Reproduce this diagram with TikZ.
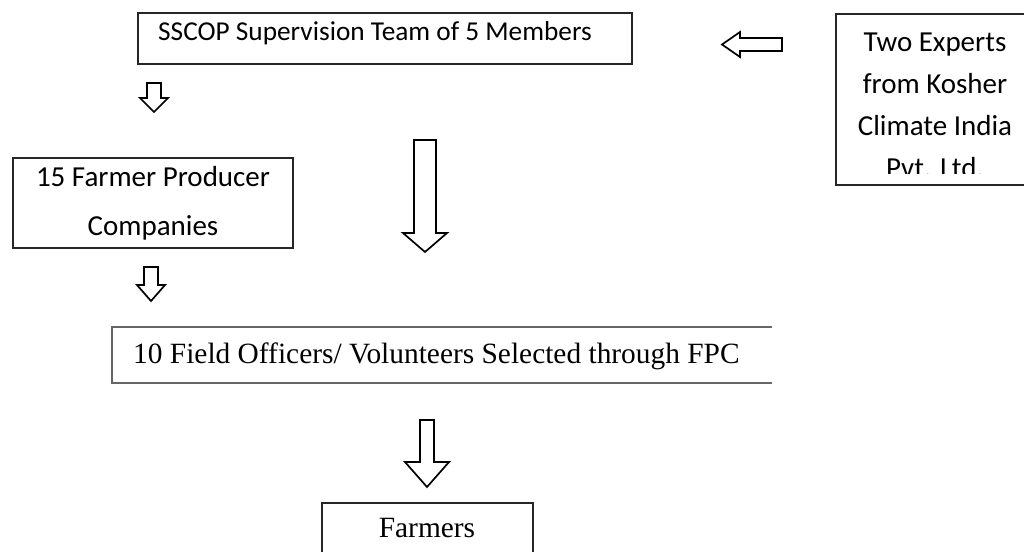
\documentclass[tikz,border=0pt]{standalone}
\usepackage{fontspec}
\setmainfont{Carlito}
\newfontfamily\timesf{Liberation Serif}
\begin{document}
\begin{tikzpicture}[x=1pt,y=-1pt,
  frame/.style={draw=black!85,line width=1.6pt,inner sep=0pt,outer sep=0pt,anchor=north west},
  openframe/.style={draw=black!60,line width=1.4pt},
  blockarrow/.style={draw=black,line width=1.7pt,fill=white,line join=miter},
  calA/.style={font=\fontsize{27.3}{32}\selectfont,inner sep=0pt,text=black},
  calB/.style={font=\fontsize{29}{34}\selectfont,inner sep=0pt,text=black},
  tms/.style={font=\timesf\fontsize{29.4}{34}\selectfont,inner sep=0pt,text=black}]
\useasboundingbox[fill=white] (0,0) rectangle (1024,551);

% top box
\node[frame,minimum width=494pt,minimum height=51pt] (sscop) at (138,13) {};
\node[calA,anchor=base west] (sscopt) at (158,41) {SSCOP Supervision Team of 5 Members};

% experts box
\node[frame,minimum width=200pt,minimum height=171pt] (experts) at (836,14) {};
\begin{scope}
  \clip (836,14) rectangle (1040,173);
  \node[calB,anchor=base] (e1) at (935,52) {Two Experts};
  \node[calB,anchor=base] (e2) at (935,93) {from Kosher};
  \node[calB,anchor=base] (e3) at (935,135) {Climate India};
  \node[calB,anchor=base] (e4) at (935,177) {Pvt. Ltd.};
\end{scope}

% left arrow
\draw[blockarrow] (722,44.5) -- (740,32) -- (740,38) -- (782,38) -- (782,51) -- (740,51) -- (740,57) -- cycle;

% small arrow under top box
\draw[blockarrow] (147,83) -- (161,83) -- (161,98) -- (168,98) -- (154,112) -- (140,98) -- (147,98) -- cycle;

% FPC box
\node[frame,minimum width=280pt,minimum height=90pt] (fpc) at (13,158) {};
\node[calB,anchor=base] (f1) at (153,186) {15 Farmer Producer};
\node[calB,anchor=base] (f2) at (153,235) {Companies};

% small arrow under FPC
\draw[blockarrow] (144,267) -- (158,267) -- (158,285) -- (165,285) -- (151,301) -- (137,285) -- (144,285) -- cycle;

% big middle arrow
\draw[blockarrow] (414,140) -- (436,140) -- (436,233) -- (447,233) -- (425,252) -- (403,233) -- (414,233) -- cycle;

% field officers box (open on the right)
\draw[openframe] (772,327) -- (112,327) -- (112,383) -- (772,383);
\node[tms,anchor=base west] (fo) at (133,363) {10 Field Officers/ Volunteers Selected through FPC};

% bottom arrow
\draw[blockarrow] (420,420) -- (434,420) -- (434,462) -- (449,462) -- (427,487) -- (405,462) -- (420,462) -- cycle;

% farmers box
\node[frame,minimum width=211pt,minimum height=60pt] (farm) at (322,503) {};
\node[tms,anchor=base] (farmt) at (427,537) {Farmers};
\end{tikzpicture}
\end{document}
